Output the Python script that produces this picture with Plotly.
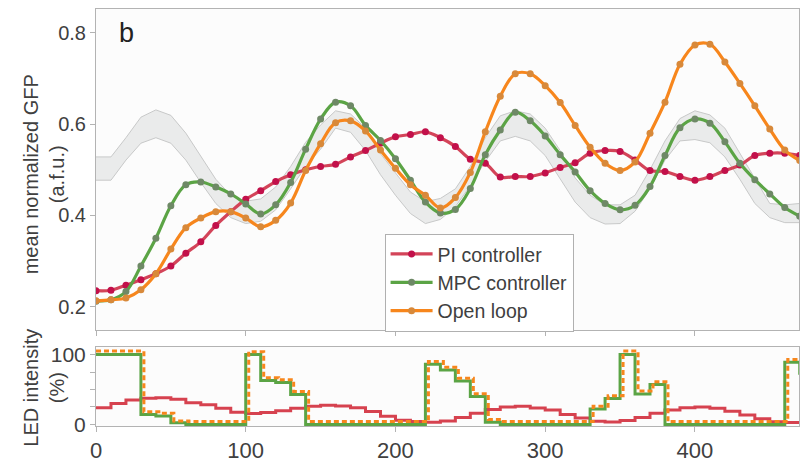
import plotly.graph_objects as go

# ---------------- data ----------------
time = [0, 10, 20, 30, 40, 50, 60, 70, 80, 90, 100, 110, 120, 130, 140, 150, 160, 170, 180, 190,
        200, 210, 220, 230, 240, 250, 260, 270, 280, 290, 300, 310, 320, 330, 340, 350, 360, 370,
        380, 390, 400, 410, 420, 430, 440, 450, 460, 470]

gfp_pi = [0.235, 0.236, 0.247, 0.259, 0.272, 0.289, 0.317, 0.342, 0.378, 0.408, 0.435, 0.454, 0.474,
          0.489, 0.500, 0.507, 0.512, 0.528, 0.542, 0.558, 0.572, 0.577, 0.583, 0.570, 0.551, 0.523,
          0.514, 0.484, 0.485, 0.485, 0.493, 0.505, 0.515, 0.536, 0.542, 0.540, 0.521, 0.498, 0.496,
          0.485, 0.477, 0.485, 0.498, 0.510, 0.531, 0.536, 0.536, 0.531]

gfp_mpc = [0.212, 0.215, 0.233, 0.289, 0.350, 0.421, 0.467, 0.473, 0.462, 0.447, 0.425, 0.403, 0.423,
           0.472, 0.545, 0.611, 0.648, 0.640, 0.597, 0.564, 0.524, 0.477, 0.429, 0.405, 0.413, 0.459,
           0.533, 0.587, 0.626, 0.607, 0.574, 0.533, 0.495, 0.454, 0.426, 0.412, 0.422, 0.463, 0.531,
           0.592, 0.611, 0.602, 0.561, 0.514, 0.478, 0.447, 0.417, 0.398]

gfp_ol = [0.213, 0.215, 0.219, 0.237, 0.272, 0.326, 0.373, 0.394, 0.408, 0.408, 0.394, 0.375, 0.389,
          0.427, 0.498, 0.557, 0.603, 0.607, 0.585, 0.543, 0.503, 0.467, 0.444, 0.416, 0.439, 0.494,
          0.583, 0.661, 0.710, 0.710, 0.684, 0.647, 0.597, 0.549, 0.514, 0.498, 0.517, 0.580, 0.648,
          0.731, 0.773, 0.775, 0.736, 0.689, 0.640, 0.589, 0.543, 0.520]

ref_upper = [0.528, 0.528, 0.570, 0.615, 0.631, 0.619, 0.580, 0.528, 0.479, 0.444, 0.431, 0.436, 0.462,
             0.507, 0.560, 0.598, 0.629, 0.622, 0.591, 0.535, 0.493, 0.451, 0.430, 0.437, 0.458, 0.507,
             0.570, 0.618, 0.629, 0.622, 0.591, 0.542, 0.482, 0.444, 0.423, 0.423, 0.444, 0.500, 0.563,
             0.612, 0.629, 0.620, 0.591, 0.535, 0.479, 0.426, 0.423, 0.426]

ref_lower = [0.477, 0.477, 0.521, 0.558, 0.570, 0.558, 0.521, 0.472, 0.426, 0.395, 0.382, 0.387, 0.412,
             0.458, 0.507, 0.545, 0.591, 0.582, 0.542, 0.489, 0.444, 0.404, 0.382, 0.391, 0.419, 0.465,
             0.518, 0.563, 0.573, 0.563, 0.531, 0.480, 0.429, 0.395, 0.381, 0.382, 0.409, 0.458, 0.521,
             0.563, 0.566, 0.559, 0.528, 0.479, 0.426, 0.395, 0.384, 0.384]

led_pi = [24, 30, 35, 37.5, 38, 36, 31, 28, 23, 17.5, 15.5, 17, 19.5, 23, 26, 27.5, 26.5, 24, 18.5, 11.5,
          6, 4, 3, 5, 10, 16, 21.5, 25, 26, 23.5, 20.5, 14, 9, 4.5, 3.5, 5.5, 10, 16, 20.5, 24, 25, 23,
          19, 13.5, 8, 3.7, 2.8, 2.8]

led_mpc = [100, 100, 100, 14, 12, 2.5, 0, 0, 0, 0, 100, 63, 60, 43, 0, 0, 0, 0, 0, 0, 0, 0, 86, 78, 62,
           40, 3, 0, 0, 0, 0, 0, 0, 22, 37, 100, 43.5, 57, 0, 0, 0, 0, 0, 0, 0, 0, 89, 71]

led_time_ol = [0, 12, 22, 32, 42, 52, 62, 72, 82, 92, 102, 112, 122, 132, 142, 152, 162, 172, 182, 192,
               202, 212, 222, 232, 242, 252, 262, 272, 282, 292, 302, 312, 322, 332, 342, 352, 362, 372,
               382, 392, 402, 412, 422, 432, 442, 452, 462, 472]
led_ol = [105, 105, 105, 18, 16, 5, 4, 4, 4, 4, 104, 67, 64, 47, 4, 4, 4, 4, 4, 4, 4, 4, 90, 82, 66,
          44, 7, 4, 4, 4, 4, 4, 4, 26, 41, 105, 48, 61, 4, 4, 4, 4, 4, 4, 4, 4, 93, 75]

x_ticks = [0, 100, 200, 300, 400]
gfp_ticks = [0.2, 0.4, 0.6, 0.8]
led_ticks = [0, 25, 50, 75, 100]
led_ticktext = ["0", "", "", "", "100"]

# ---------------- styles ----------------
FONT = "Liberation Sans, Arial, sans-serif"
C_PI_LINE, C_PI_DOT = "#d34459", "#c2104a"
C_MPC_LINE, C_MPC_DOT = "#5ba445", "#6e8966"
C_OL_LINE, C_OL_DOT = "#f7861c", "#d8893a"
AX = "#b3b3b3"
TXT = "#404040"

fig = go.Figure()

# reference band
fig.add_trace(go.Scatter(x=time, y=ref_lower, mode="lines", line=dict(color="#c8c9c9", width=1),
                         xaxis="x2", yaxis="y2", showlegend=False, hoverinfo="skip"))
fig.add_trace(go.Scatter(x=time, y=ref_upper, mode="lines", line=dict(color="#c8c9c9", width=1),
                         fill="tonexty", fillcolor="rgba(222,224,224,0.6)",
                         xaxis="x2", yaxis="y2", showlegend=False, hoverinfo="skip"))

for name, ys, lc, dc in [("PI controller", gfp_pi, C_PI_LINE, C_PI_DOT),
                         ("MPC controller", gfp_mpc, C_MPC_LINE, C_MPC_DOT),
                         ("Open loop", gfp_ol, C_OL_LINE, C_OL_DOT)]:
    fig.add_trace(go.Scatter(x=time, y=ys, name=name, mode="lines+markers",
                             line=dict(color=lc, width=3.2, shape="spline", smoothing=1.0),
                             marker=dict(color=dc, size=7),
                             xaxis="x2", yaxis="y2"))

# LED panel
fig.add_trace(go.Scatter(x=time, y=led_pi, mode="lines", line=dict(color="#d6424f", width=3, shape="hv"),
                         xaxis="x", yaxis="y", showlegend=False))
fig.add_trace(go.Scatter(x=time, y=led_mpc, mode="lines", line=dict(color="#5ba445", width=3, shape="hv"),
                         xaxis="x", yaxis="y", showlegend=False))
fig.add_trace(go.Scatter(x=led_time_ol, y=led_ol, mode="lines",
                         line=dict(color="#f7861c", width=3, shape="hv", dash="5px,3px"),
                         xaxis="x", yaxis="y", showlegend=False))

axis_common = dict(showline=True, linecolor=AX, linewidth=1, mirror=True, ticks="outside",
                   ticklen=5, tickcolor=AX, showgrid=False, zeroline=False)

fig.update_layout(
    width=805, height=468,
    margin=dict(l=96, r=5, t=6, b=28),
    paper_bgcolor="white", plot_bgcolor="#fcfcfc",
    font=dict(family=FONT, color=TXT),
    xaxis=dict(domain=[0, 1], anchor="y", range=[0, 469.5], tickvals=x_ticks,
               tickfont=dict(size=22, color=TXT), **axis_common),
    yaxis=dict(domain=[0, 0.189], anchor="x", range=[-2.3, 110.6], tickvals=led_ticks,
               ticktext=led_ticktext, tickfont=dict(size=21, color=TXT), **axis_common),
    xaxis2=dict(domain=[0, 1], anchor="y2", matches="x", tickvals=x_ticks, showticklabels=False,
                **axis_common),
    yaxis2=dict(domain=[0.2304, 1], anchor="x2", range=[0.149, 0.852], tickvals=gfp_ticks,
                tickformat=".1f", tickfont=dict(size=20, color=TXT), **axis_common),
    legend=dict(x=0.4105, y=0.461, xanchor="left", yanchor="top", bgcolor="white",
                bordercolor="#b0b0b0", borderwidth=1, font=dict(size=19.5, color=TXT),
                traceorder="normal", itemwidth=42, tracegroupgap=0),
    showlegend=True,
    annotations=[
        dict(text="b", xref="paper", yref="paper", x=(127 - 96) / 704, y=(440 - 31) / 434,
             showarrow=False, font=dict(size=27, color="#222222"), xanchor="center", yanchor="middle"),
        dict(text="mean normalized GFP<br>(a.f.u.)", xref="paper", yref="paper",
             x=(44 - 96) / 704, y=(440 - 178) / 434, textangle=-90, showarrow=False,
             font=dict(size=20, color=TXT), xanchor="center", yanchor="middle"),
        dict(text="LED intensity<br>(%)", xref="paper", yref="paper",
             x=(43 - 96) / 704, y=(440 - 400) / 434, textangle=-90, showarrow=False,
             font=dict(size=20, color=TXT), xanchor="center", yanchor="middle"),
    ],
)

fig.write_html("out.html")
